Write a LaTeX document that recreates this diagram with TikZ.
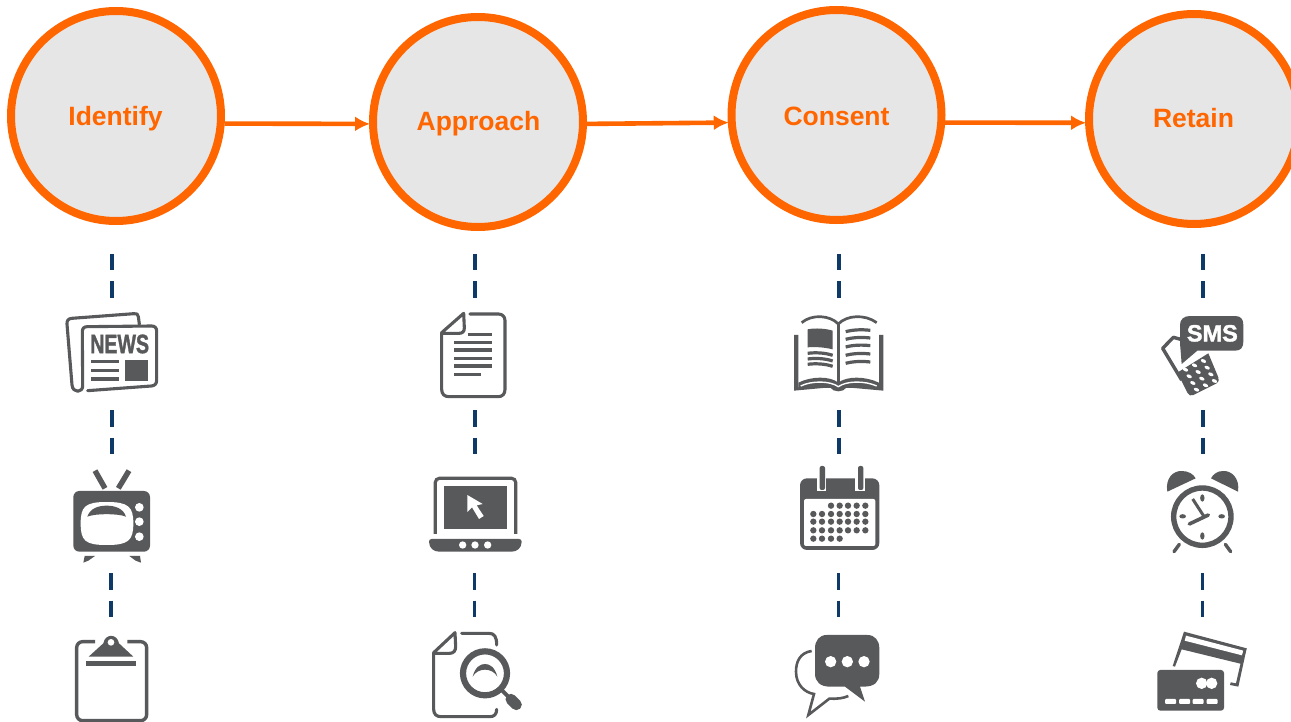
\documentclass[tikz,border=0pt]{standalone}
\usepackage{fontspec}
\setmainfont{Liberation Sans}
\newfontfamily\fatfont[BoldFont={Liberation Sans Bold},BoldFeatures={FakeBold=1.6}]{Liberation Sans}
\usetikzlibrary{arrows.meta}
\definecolor{ior}{HTML}{FF6600}
\definecolor{ifl}{HTML}{E6E6E6}
\definecolor{ig}{HTML}{58595B}
\definecolor{inavy}{HTML}{0F3A68}
\tikzset{
  stage/.style={circle,draw=ior,fill=ifl,line width=8pt,minimum size=210pt,inner sep=0pt,outer sep=4pt},
  stagetext/.style={text=ior,font=\fontsize{26.5}{30}\selectfont\bfseries,inner sep=0pt},
  flow/.style={draw=ior,line width=4.6pt,-{Latex[length=15pt,width=15pt]},shorten >=-1pt},
  dashline/.style={draw=inavy,line width=3.6pt,dash pattern=on 16.5pt off 11pt},
  iline/.style={draw=ig,line width=3.1pt,fill=none,line cap=round,line join=round},
  ifill/.style={fill=ig,draw=none},
  iwhite/.style={fill=white,draw=none},
  crop/.style={shift={#1},x=.33333pt,y=-.33333pt},
}
\begin{document}
\begin{tikzpicture}[x=1pt,y=-1pt]
\useasboundingbox (0,0) rectangle (1291,722);
\fill[white] (0,0) rectangle (1291,722);
\clip (0,0) rectangle (1291,722);

% stages
\node[stage] (c1) at (116,116) {};
\node[stage] (c2) at (478,122) {};
\node[stage] (c3) at (836.5,115) {};
\node[stage] (c4) at (1194,119) {};
\node[stagetext] (t1) at (115.5,118.5) {Identify};
\node[stagetext] (t2) at (478.5,123.5) {Approach};
\node[stagetext] (t3) at (836.5,116) {Consent};
\node[stagetext] (t4) at (1193.5,118.5) {Retain};
\draw[flow] (c1.-4.7) -- (c2.181.5);
\draw[flow] (c2.-1) -- (c3.184.8);
\draw[flow] (c3.-4.4) -- (c4.182);

% dashed links
\foreach \n/\xa/\xb in {1/112/111,2/475/474.5,3/839/838.5,4/1203/1202.5}{
  \coordinate (a\n) at (\xa,254); \coordinate (b\n) at (\xa,298);
  \coordinate (e\n) at (\xa,410); \coordinate (f\n) at (\xa,454);
  \coordinate (g\n) at (\xb,573); \coordinate (h\n) at (\xb,617);
  \draw[dashline] (a\n) -- (b\n);
  \draw[dashline] (e\n) -- (f\n);
  \draw[dashline] (g\n) -- (h\n);
}

% ---- column 1
\begin{scope}[crop={(50,300)}]
  % news
  \draw[iline] (268,72) -- (265,50) .. controls (264,42) and (260,40) .. (252,41) -- (65,55) .. controls (55,56) and (50,62) .. (51,72) -- (66,255) .. controls (68,280) and (100,280) .. (98,255) -- (97,95) .. controls (97,85) and (102,80) .. (112,80) -- (305,78) .. controls (315,78) and (320,84) .. (320,94) -- (320,240) .. controls (320,252) and (314,257) .. (304,258) -- (113,272);
  \node[inner sep=0pt,text=ig,font=\fontsize{26.5}{28}\selectfont\fatfont\bfseries,xscale=.74] (news) at (209,132) {NEWS};
  \foreach \y in {185,212,238}{\fill[ig] (122,\y-5.5) rectangle (208,\y+5.5);}
  \fill[ig] (225,180) rectangle (295,243);
  % tv
  \draw[draw=ig,line width=5.4pt] (135,512) -- (165,565);
  \draw[draw=ig,line width=5.4pt] (237,512) -- (205,565);
  \fill[ig,rounded corners=6pt] (70,573) rectangle (300,755);
  \path[iwhite] (92,670) .. controls (92,620) and (105,606) .. (170,606) .. controls (235,606) and (250,620) .. (250,670) .. controls (250,722) and (235,735) .. (170,735) .. controls (105,735) and (92,722) .. (92,670) -- cycle;
  \path[ifill] (112,650) .. controls (120,625) and (145,617) .. (170,617) .. controls (195,617) and (220,625) .. (228,650) .. controls (205,640) and (135,640) .. (112,650) -- cycle;
  \foreach \y in {622,665,710}{\fill[white] (268,\y) circle [radius=13];}
  \path[ifill] (104,768) -- (135,768) -- (115,782) -- (100,788) -- cycle;
  \path[ifill] (238,768) -- (270,768) -- (273,788) -- (257,782) -- cycle;
  % clipboard
  \draw[draw=ig,line width=3.4pt,rounded corners=6pt] (135,1025) -- (80,1025) -- (80,1262) -- (290,1262) -- (290,1025) -- (232,1025);
  \path[ifill] (116,1070) -- (160,1030) .. controls (165,1000) and (202,1000) .. (207,1030) -- (250,1070) -- cycle;
  \fill[white] (183,1027) circle [radius=10];
  \fill[ig] (108,1084) rectangle (258,1097);
\end{scope}

% ---- column 2
\begin{scope}[crop={(415,300)}]
  % document
  \draw[iline] (165,42) -- (250,42) .. controls (262,42) and (270,50) .. (270,62) -- (270,268) .. controls (270,282) and (262,290) .. (250,290) -- (102,290) .. controls (88,290) and (80,282) .. (80,268) -- (80,98) -- (146,40) -- (148,84) .. controls (148,95) and (142,100) .. (132,100) -- (82,100);
  \draw[draw=ig,line width=3.2pt] (158,103) -- (232,103);
  \foreach \y in {127,150,175,198}{\draw[draw=ig,line width=3.2pt] (118,\y) -- (232,\y);}
  \draw[draw=ig,line width=3.2pt] (118,223) -- (198,223);
  % laptop
  \draw[draw=ig,line width=3.2pt,rounded corners=4pt] (61,702) -- (61,535) -- (302,535) -- (302,702);
  \fill[ig] (88,557) rectangle (275,686);
  \path[iwhite] (157,585) -- (157,636) -- (171,622) -- (192,657) -- (206,648) -- (185,616) -- (203,612) -- cycle;
  \path[ifill] (42,725) .. controls (42,720) and (45,717) .. (50,717) -- (312,717) .. controls (317,717) and (320,720) .. (320,725) .. controls (320,745) and (305,755) .. (290,755) -- (72,755) .. controls (57,755) and (42,745) .. (42,725) -- cycle;
  \foreach \x in {143,180,218}{\fill[white] (\x,735) circle [radius=11];}
  % document + lens
  \draw[iline] (140,1000) -- (222,1000) .. controls (238,1000) and (245,1010) .. (245,1035);
  \draw[iline] (245,1228) .. controls (245,1242) and (238,1250) .. (225,1250) -- (78,1250) .. controls (64,1250) and (56,1242) .. (56,1228) -- (56,1058) -- (120,998) -- (122,1040) .. controls (122,1052) and (116,1060) .. (104,1060) -- (58,1060);
  \draw[draw=ig,line width=6.2pt,fill=white] (210,1120) circle [radius=66];
  \path[ifill] (173,1130) .. controls (180,1102) and (195,1092) .. (210,1092) .. controls (225,1092) and (240,1102) .. (247,1130) .. controls (232,1102) and (188,1102) .. (173,1130) -- cycle;
  \draw[draw=ig,line width=3.8pt] (260,1170) -- (285,1195);
  \draw[draw=ig,line width=11pt,line cap=round] (288,1198) -- (304,1214);
\end{scope}

% ---- column 3
\begin{scope}[crop={(780,300)}]
  % book
  \path[ifill] (42,105) -- (42,272) -- (150,262) .. controls (160,278) and (190,278) .. (200,262) -- (310,272) -- (310,105) -- (297,105) -- (297,262) -- (55,262) -- (55,105) -- cycle;
  \path[ifill] (55,264) -- (55,248) .. controls (95,228) and (150,228) .. (175,248) .. controls (200,228) and (255,228) .. (297,248) -- (297,264) -- cycle;
  \draw[draw=white,line width=1.4pt] (62,258) .. controls (95,242) and (150,242) .. (175,260) .. controls (200,242) and (255,242) .. (290,258);
  \draw[draw=ig,line width=2.7pt] (65,68) .. controls (95,42) and (150,45) .. (175,72) .. controls (200,45) and (255,42) .. (290,68);
  \draw[draw=ig,line width=2.7pt] (175,72) -- (175,255);
  \path[ifill] (83,88) .. controls (105,83) and (140,86) .. (158,92) -- (158,148) .. controls (135,142) and (105,140) .. (83,142) -- cycle;
  \foreach \y in {160,177,193}{\draw[draw=ig,line width=3.2pt] (83,\y) .. controls (105,\y-3) and (135,\y-2) .. (158,\y+6);}
  \foreach \y in {95,118,141,166,190}{\draw[draw=ig,line width=3.2pt] (197,\y) .. controls (220,\y-6) and (245,\y-7) .. (271,\y-4);}
  % calendar
  \path[ifill,rounded corners=7pt] (60,535) rectangle (298,750);
  \fill[white,rounded corners=2pt] (72,597) rectangle (286,738);
  \foreach \x in {127,242}{
    \fill[white] (\x-17,528) rectangle (\x+12,572);
    \fill[ig,rounded corners=2pt] (\x-8,498) rectangle (\x+8,570);
  }
  \foreach \x in {153,179,204,230,256}{\fill[ig] (\x,617) circle [radius=9.5];}
  \foreach \y in {642,665,691}{\foreach \x in {100,126,153,179,204,230,256}{\fill[ig] (\x,\y) circle [radius=9.5];}}
  \foreach \x in {100,126,153,179}{\fill[ig] (\x,716) circle [radius=9.5];}
  % bubbles
  \path[ifill] (140,1005) -- (262,1005) .. controls (285,1005) and (298,1022) .. (298,1045) -- (298,1120) .. controls (298,1145) and (285,1160) .. (250,1160) -- (240,1160) -- (255,1205) -- (195,1160) -- (150,1160) .. controls (120,1160) and (105,1145) .. (105,1120) -- (105,1045) .. controls (105,1022) and (118,1005) .. (140,1005) -- cycle;
  \foreach \x in {152,202,252}{\fill[white] (\x,1085) circle [radius=17];}
  \draw[draw=ig,line width=2.6pt] (95,1053) .. controls (60,1058) and (48,1085) .. (48,1115) .. controls (48,1155) and (75,1178) .. (102,1182) -- (85,1245) -- (148,1196) .. controls (170,1197) and (190,1195) .. (205,1188);
\end{scope}

% ---- column 4
\begin{scope}[crop={(1140,300)}]
  % phone
  \draw[draw=ig,line width=3.4pt,line join=round] (122,118) -- (100,112) -- (68,145) -- (125,240);
  \path[ifill] (112,218) -- (205,160) -- (235,232) .. controls (238,240) and (236,246) .. (230,250) -- (160,285) .. controls (152,289) and (147,286) .. (142,278) -- cycle;
  \foreach \i in {-1,0,1}{\foreach \j in {-1.5,-0.5,0.5,1.5}{
    \fill[white,shift={(180+\i*27+\j*11,226-\i*13+\j*20)},rotate=-25] (0,0) ellipse [x radius=8.5,y radius=5];
  }}
  % bubble + text
  \path[ifill] (150,48) -- (285,48) .. controls (303,48) and (310,58) .. (310,75) -- (310,125) .. controls (310,142) and (303,152) .. (285,152) -- (172,152) -- (125,192) -- (120,130) -- (120,75) .. controls (120,58) and (132,48) .. (150,48) -- cycle;
  \node[inner sep=0pt,text=white,font=\fontsize{23.5}{26}\selectfont\fatfont\bfseries] (sms) at (217,100) {SMS};
  % clock
  \path[ifill] (82,575) .. controls (75,535) and (100,512) .. (125,513) .. controls (145,513) and (160,522) .. (167,535) -- cycle;
  \path[ifill] (294,575) .. controls (300,535) and (275,512) .. (250,513) .. controls (232,513) and (220,522) .. (213,535) -- cycle;
  \draw[draw=ig,line width=5.4pt,fill=white] (187,650) circle [radius=86];
  \fill[ig] (187,594) ellipse [x radius=6.5,y radius=11];
  \fill[ig] (187,708) ellipse [x radius=6.5,y radius=11];
  \fill[ig] (128,649) ellipse [x radius=10,y radius=6.5];
  \fill[ig] (245,649) ellipse [x radius=10,y radius=6.5];
  \draw[draw=ig,line width=3pt] (158,597) -- (195,654);
  \draw[draw=ig,line width=3.6pt,line cap=round] (148,672) -- (205,645);
  \draw[draw=ig,line width=3.4pt,line cap=round] (118,733) -- (102,755);
  \draw[draw=ig,line width=3.4pt,line cap=round] (256,733) -- (272,755);
  % cards
  \path[ifill] (132,995) -- (320,1045) -- (305,1092) -- (125,1048) -- (105,1100) -- (98,1098) -- cycle;
  \path[iwhite] (138,1007) -- (310,1052) -- (306,1066) -- (134,1022) -- cycle;
  \path[ifill] (320,1045) -- (295,1160) -- (270,1155) -- (272,1147) -- (288,1150) -- (312,1045) -- cycle;
  \path[ifill,rounded corners=3pt] (52,1110) rectangle (252,1232);
  \fill[white] (185,1150) circle [radius=17];
  \fill[white] (215,1150) circle [radius=17];
  \foreach \x in {75,117,158,200}{\fill[white,rounded corners=1pt] (\x,1197) rectangle (\x+33,1212);}
\end{scope}
\end{tikzpicture}
\end{document}
